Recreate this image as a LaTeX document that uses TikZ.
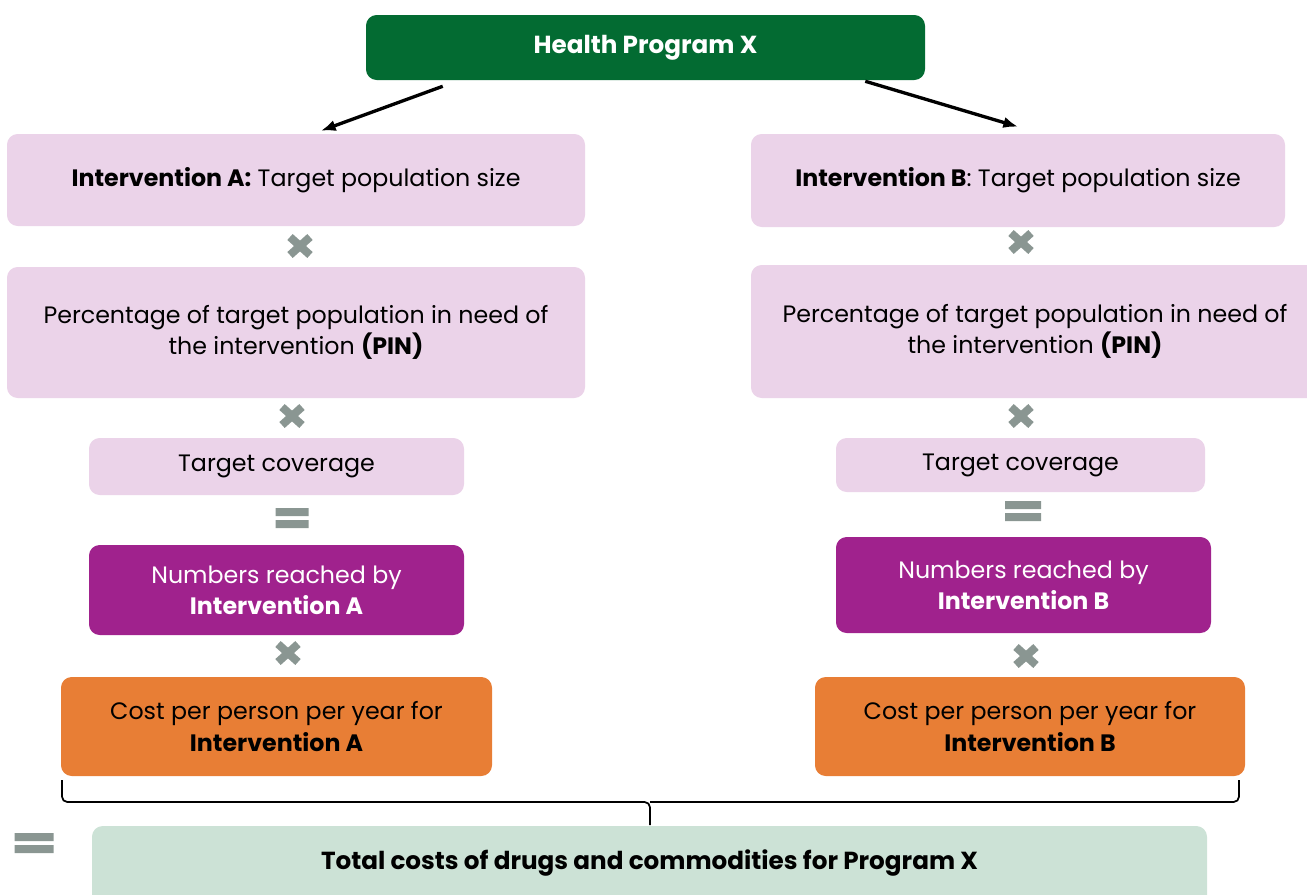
\documentclass[tikz,border=0pt]{standalone}
\usepackage{fontspec}
\setmainfont{Poppins}
\usetikzlibrary{arrows.meta,calc}
\definecolor{ProgGreen}{HTML}{036B32}
\definecolor{StepPink}{HTML}{EBD3E9}
\definecolor{ReachPurple}{HTML}{A0228D}
\definecolor{CostOrange}{HTML}{E87E35}
\definecolor{TotalMint}{HTML}{CCE2D6}
\definecolor{SignGrey}{HTML}{8A9692}
% name, options, centre, width, height, text (sizes in px of the sheet)
\newcommand{\costbox}[6]{%
  \node[rounded corners=8pt,align=center,inner sep=0pt,
        minimum width=#4*0.75pt,minimum height=#5*0.75pt,
        font=\fontsize{17.8}{23.5}\selectfont,#2] (#1) at (#3) {#6};}
\newcommand{\timessign}[1]{%
  \draw[SignGrey,line width=6pt] ($(#1)+(-10,-9)$) -- ($(#1)+(10,9)$)
    ($(#1)+(-10,9)$) -- ($(#1)+(10,-9)$);}
\newcommand{\equalsign}[2]{%
  \fill[SignGrey] ($(#1)+(-#2/2,-10)$) rectangle ($(#1)+(#2/2,-2)$)
    ($(#1)+(-#2/2,2)$) rectangle ($(#1)+(#2/2,10)$);}

\begin{document}
\begin{tikzpicture}[x=0.75pt,y=-0.75pt,>={Latex[length=11pt,width=8.5pt]}]
  \useasboundingbox (0,0) rectangle (1307,894);
  \clip (0,0) rectangle (1307,894);
  \costbox{prog}{fill=ProgGreen,text=white,font=\fontsize{18.5}{22}\bfseries}{645.5,47.5}{559}{65}{Health Program X}
  % intervention A
  \costbox{intA}{fill=StepPink}{296,180}{578}{92}{\textbf{Intervention A:} Target population size}
  \costbox{pinA}{fill=StepPink}{296,332.5}{578}{131}{Percentage of target population in need of\\the intervention \textbf{(PIN)}}
  \costbox{covA}{fill=StepPink}{276.5,466.5}{375}{57}{Target coverage}
  \costbox{numA}{fill=ReachPurple,text=white}{276.5,590}{375}{90}{Numbers reached by\\\textbf{Intervention A}}
  \costbox{costA}{fill=CostOrange}{276.5,726.5}{431}{99}{Cost per person per year for\\\textbf{Intervention A}}
  % intervention B
  \costbox{intB}{fill=StepPink}{1018,180.5}{534}{93}{\textbf{Intervention B}: Target population size}
  \costbox{pinB}{fill=StepPink}{1035,331.5}{568}{133}{Percentage of target population in need of\\the intervention \textbf{(PIN)}}
  \costbox{covB}{fill=StepPink}{1020.5,465}{369}{54}{Target coverage}
  \costbox{numB}{fill=ReachPurple,text=white}{1023.5,585}{375}{96}{Numbers reached by\\\textbf{Intervention B}}
  \costbox{costB}{fill=CostOrange}{1030,726.5}{430}{99}{Cost per person per year for\\\textbf{Intervention B}}
  % total
  \costbox{total}{fill=TotalMint,text depth=14pt,font=\fontsize{18.5}{22}\bfseries}{649.5,869}{1115}{86}{Total costs of drugs and commodities for Program X}
  \draw[->,line width=2.5pt] ($(prog.south west)+(77,6)$) -- ($(intA.north)+(25,-3)$);
  \draw[->,line width=2.5pt] ($(prog.south east)+(-60,1)$) -- ($(intB.north)+(0,-7)$);
  \timessign{300,246}
  \timessign{292,416}
  \equalsign{292,518}{33}
  \timessign{288,653}
  \timessign{1021,242}
  \timessign{1021,416}
  \equalsign{1023,511}{36}
  \timessign{1026,656}
  \equalsign{34,843}{39}
  \draw[line width=1.3pt,rounded corners=4] (62,780) |- (650,802) -- (650,825);
  \draw[line width=1.3pt,rounded corners=4] (1239,780) |- (650,802);
\end{tikzpicture}
\end{document}
